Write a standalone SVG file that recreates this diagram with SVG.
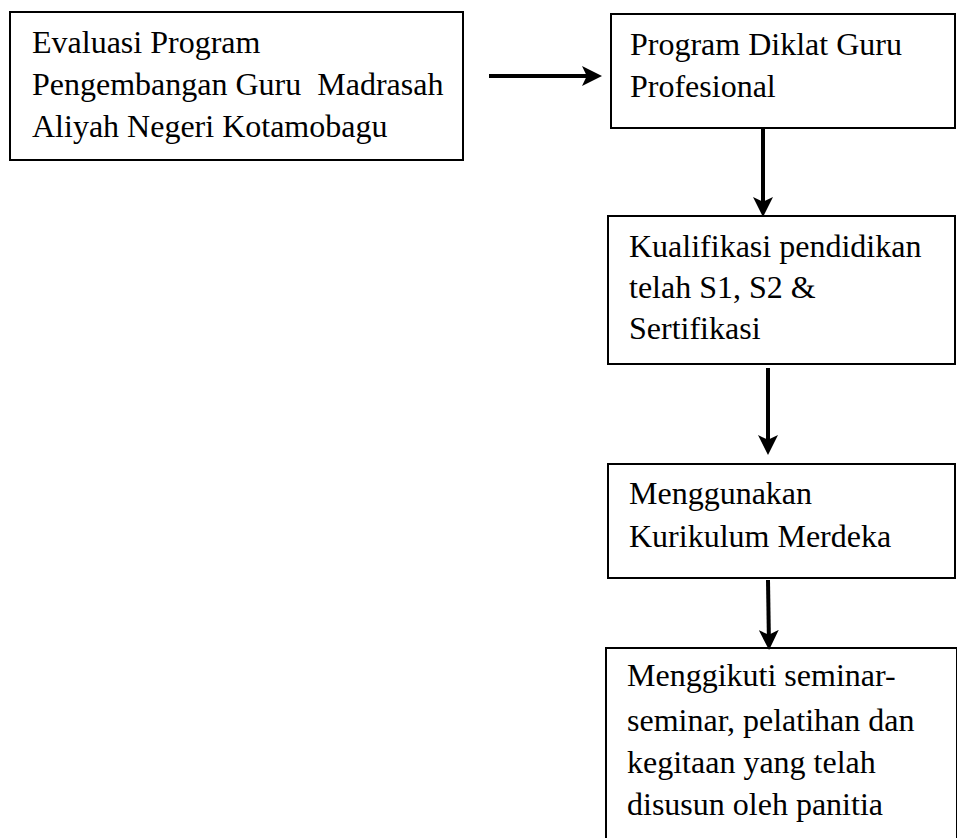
<svg xmlns="http://www.w3.org/2000/svg" width="957" height="838" viewBox="0 0 957 838">
<style>
.box{fill:#fff;stroke:#000;stroke-width:2}
.t{font-family:"Liberation Serif","Times New Roman",serif;font-size:32px;fill:#000}
.c{stroke:#000;stroke-width:4;fill:none}
</style>
<defs>
<marker id="ah" markerWidth="5" markerHeight="5" refX="4" refY="2.5" orient="auto" markerUnits="strokeWidth">
<path d="M0,0 L5,2.5 L0,5 L1.2,2.5 Z" fill="#000"/>
</marker>
</defs>
<rect width="957" height="838" fill="#fff"/>
<g id="n1">
<rect class="box" x="10" y="12" width="453" height="148"/>
<text class="t" x="32" y="53">Evaluasi Program</text>
<text class="t" x="32" y="95" xml:space="preserve">Pengembangan Guru  Madrasah</text>
<text class="t" x="32" y="137">Aliyah Negeri Kotamobagu</text>
</g>
<g id="n2">
<rect class="box" x="611" y="14" width="344" height="114"/>
<text class="t" x="630" y="55">Program Diklat Guru</text>
<text class="t" x="630" y="97">Profesional</text>
</g>
<g id="n3">
<rect class="box" x="608" y="216" width="347" height="148"/>
<text class="t" x="629" y="257">Kualifikasi pendidikan</text>
<text class="t" x="629" y="298">telah S1, S2 &amp;</text>
<text class="t" x="629" y="339">Sertifikasi</text>
</g>
<g id="n4">
<rect class="box" x="608" y="464" width="347" height="114"/>
<text class="t" x="629" y="504">Menggunakan</text>
<text class="t" x="629" y="547">Kurikulum Merdeka</text>
</g>
<g id="n5">
<rect class="box" x="606" y="648" width="351" height="200"/>
<text class="t" x="627" y="686">Menggikuti seminar-</text>
<text class="t" x="627" y="731">seminar, pelatihan dan</text>
<text class="t" x="627" y="773">kegitaan yang telah</text>
<text class="t" x="627" y="815">disusun oleh panitia</text>
</g>
<g id="connectors">
<line class="c" x1="489" y1="76" x2="598" y2="76" marker-end="url(#ah)"/>
<line class="c" x1="763" y1="128" x2="763" y2="213" marker-end="url(#ah)"/>
<line class="c" x1="768" y1="368" x2="768" y2="451" marker-end="url(#ah)"/>
<line class="c" x1="768" y1="580" x2="769" y2="646" marker-end="url(#ah)"/>
</g>
</svg>
